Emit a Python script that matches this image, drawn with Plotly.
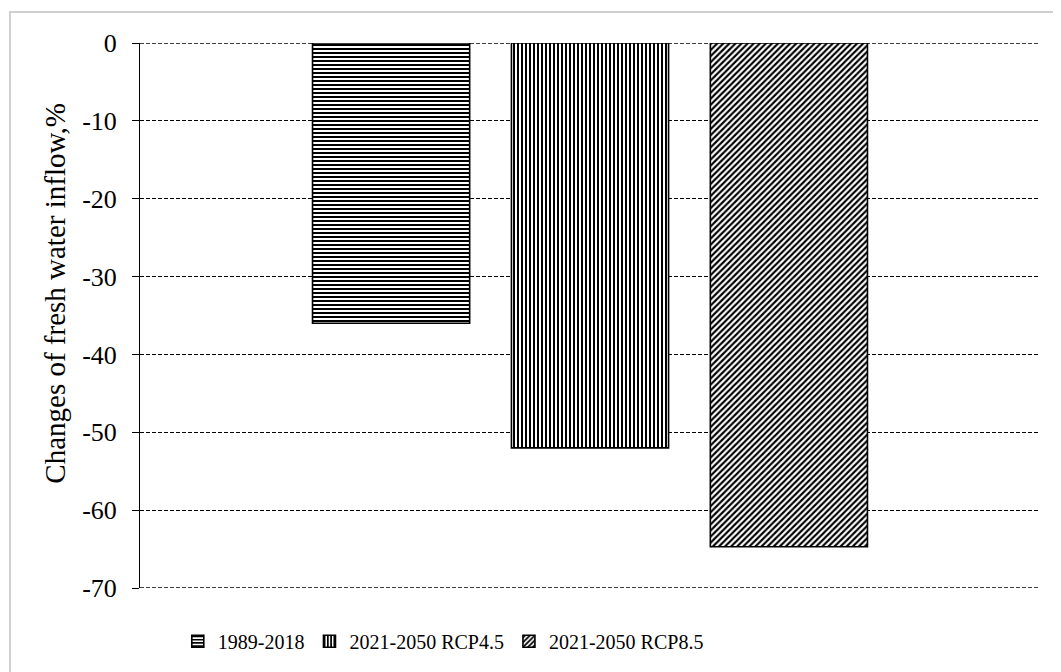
import plotly.graph_objects as go

series_names = ["1989-2018", "2021-2050 RCP4.5", "2021-2050 RCP8.5"]
series_values = [-36, -52, -64.7]
patterns = ["-", "|", "/"]
pattern_sizes = [4, 4, 4.3]
category = ["Inflow"]
y_ticks = [0, -10, -20, -30, -40, -50, -60, -70]
y_tick_labels = ["0", "-10", "-20", "-30", "-40", "-50", "-60", "-70"]
y_title = "Changes of fresh water inflow,%"

font_family = "Liberation Serif, Times New Roman, serif"

fig = go.Figure()
for name, val, pat, ps in zip(series_names, series_values, patterns, pattern_sizes):
    fig.add_trace(go.Bar(
        x=category, y=[val], name=name,
        marker=dict(color="white",
                    line=dict(color="black", width=1.6),
                    pattern=dict(shape=pat, fgcolor="black", bgcolor="white",
                                 size=ps, solidity=0.5, fillmode="replace")),
    ))

grid_dash = "4px,2px"
edge_lines = [dict(type="line", xref="paper", yref="y", x0=0, x1=1, y0=v, y1=v,
                   line=dict(color="black", width=1.4, dash=grid_dash), layer="below")
              for v in (y_ticks[0], y_ticks[-1])]

fig.update_layout(
    width=1053, height=664,
    margin=dict(l=132, r=21, t=35, b=84, autoexpand=False),
    paper_bgcolor="white", plot_bgcolor="white",
    barmode="group", bargap=0.337, bargroupgap=0.21,
    font=dict(family=font_family, size=20, color="black"),
    showlegend=True,
    legend=dict(orientation="h", x=0.337, xanchor="center", y=-0.062, yanchor="top",
                font=dict(family=font_family, size=20, color="black"),
                itemwidth=30, traceorder="normal"),
    xaxis=dict(showticklabels=False, showgrid=False, zeroline=False, showline=False, ticks=""),
    yaxis=dict(range=[-70, 0], tickvals=y_ticks, ticktext=y_tick_labels,
               ticks="outside", ticklen=7, tickcolor="black", ticklabelstandoff=10,
               showline=True, linecolor="black", linewidth=1,
               showgrid=True, gridcolor="black", griddash=grid_dash, gridwidth=1.2,
               zeroline=False, tickfont=dict(size=26)),
    annotations=[dict(text=y_title, textangle=-90, xref="paper", yref="paper",
                      x=-85/900, y=0.54, xanchor="center", yanchor="middle",
                      showarrow=False, font=dict(size=29, family=font_family, color="black"))],
    shapes=edge_lines + [dict(type="rect", xref="paper", yref="paper",
                 x0=-130/900, x1=1.017, y0=-0.3, y1=1 + 31/545,
                 line=dict(color="#d0d0d0", width=2), layer="below")],
)

fig.write_html("out.html")
